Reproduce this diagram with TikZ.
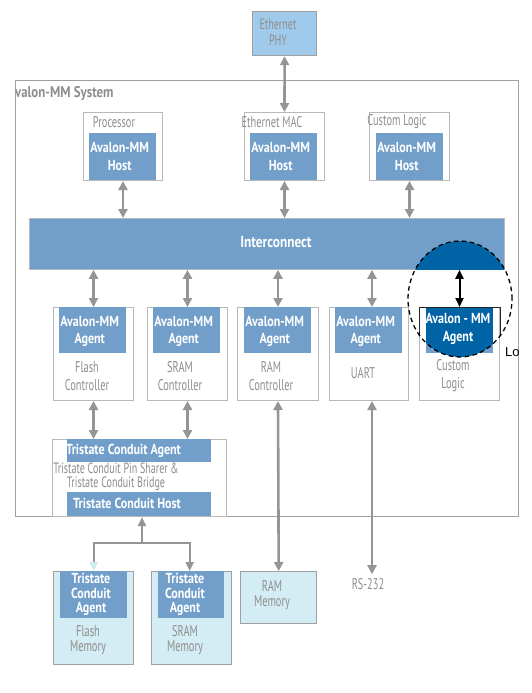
\documentclass[tikz,border=0pt]{standalone}
\usepackage{fontspec}
\setmainfont{PT Sans}
\newfontfamily\rgf{PT Sans}[FakeStretch=0.67]
\newfontfamily\bdf{PT Sans}[FakeStretch=0.83]
\newfontfamily\arialf{Liberation Sans}
\usetikzlibrary{arrows.meta,calc}
\definecolor{midblue}{HTML}{729FCA}
\definecolor{darkblue}{HTML}{0063A6}
\definecolor{phyblue}{HTML}{9FCAEB}
\definecolor{memcyan}{HTML}{D4ECF3}
\definecolor{boxgray}{HTML}{B8B8B8}
\definecolor{sysgray}{HTML}{A0A0A0}
\definecolor{arrgray}{HTML}{959595}
\definecolor{txtgray}{HTML}{8E8E8E}
\definecolor{palehead}{HTML}{CDEBF5}
\begin{document}
\begin{tikzpicture}[x=1pt,y=-1pt,
  box/.style={draw=boxgray, line width=1pt, fill=white, inner sep=0pt, anchor=north west},
  sysbox/.style={draw=sysgray, line width=1.2pt, inner sep=0pt, anchor=north west},
  bluebox/.style={fill=midblue, inner sep=0pt, anchor=north west},
  membox/.style={draw=sysgray, line width=1.4pt, fill=memcyan, inner sep=0pt, anchor=north west},
  gtxt/.style={text=txtgray, font=\rgf\fontsize{15.5}{18}\selectfont, align=center, inner sep=0pt},
  wtxt/.style={text=white, font=\bdf\bfseries\fontsize{14.5}{17.5}\selectfont, align=center, inner sep=0pt},
  garrow/.style={draw=arrgray, line width=2.6pt, {Triangle[width=9pt,length=9pt]}-{Triangle[width=9pt,length=9pt]}},
  gsingle/.style={draw=arrgray, line width=2.2pt, -{Triangle[width=8pt,length=9pt]}},
  barrow/.style={draw=black, line width=2pt, {Triangle[width=8pt,length=9pt]}-{Triangle[width=8pt,length=9pt]}},
  dashring/.style={draw=black, line width=1.3pt, dash pattern=on 4.5pt off 3.5pt}
]
\useasboundingbox (0,0) rectangle (532,693);
\fill[white] (0,0) rectangle (532,693);

% outer system
\node[sysbox, minimum width=503pt, minimum height=436pt] (sys) at (15,80) {};
\node[text=txtgray, font=\bdf\bfseries\fontsize{15.5}{18}\selectfont, anchor=west, inner sep=0pt] (title) at (15,94) {valon-MM System};

% Ethernet PHY
\node[sysbox, fill=phyblue, minimum width=64pt, minimum height=44pt] (phy) at (252,11) {};
\node[gtxt, font=\rgf\fontsize{15}{16}\selectfont] (phyT) at (278,32) {Ethernet\\PHY};

% host boxes
\node[box, minimum width=79pt, minimum height=68pt] (proc) at (83,112) {};
\node[bluebox, minimum width=67pt, minimum height=47pt] (procH) at (89,133) {};
\node[box, minimum width=80pt, minimum height=68pt] (mac) at (244,112) {};
\node[bluebox, minimum width=67pt, minimum height=47pt] (macH) at (250,133) {};
\node[box, minimum width=80pt, minimum height=68pt] (cust) at (369,112) {};
\node[bluebox, minimum width=67pt, minimum height=47pt] (custH) at (376,133) {};

% interconnect
\node[bluebox, draw=boxgray, line width=0.8pt, minimum width=475pt, minimum height=51pt] (ic) at (29,218) {};

% agent boxes
\node[box, minimum width=80pt, minimum height=93pt] (flashc) at (53,307) {};
\node[bluebox, minimum width=67pt, minimum height=46pt] (flashcA) at (59,307) {};
\node[box, minimum width=80pt, minimum height=93pt] (sramc) at (147,307) {};
\node[bluebox, minimum width=67pt, minimum height=46pt] (sramcA) at (153,307) {};
\node[box, minimum width=81pt, minimum height=93pt] (ramc) at (237,307) {};
\node[bluebox, minimum width=67pt, minimum height=46pt] (ramcA) at (244,307) {};
\node[box, minimum width=79pt, minimum height=93pt] (uart) at (329,307) {};
\node[bluebox, minimum width=67pt, minimum height=46pt] (uartA) at (335,307) {};
\node[box, minimum width=80pt, minimum height=93pt] (custl) at (419,307) {};
\node[bluebox, minimum width=67pt, minimum height=46pt] (custlA) at (426,307) {};

% tristate bridge
\node[box, minimum width=174pt, minimum height=77pt] (tri) at (52,439) {};
\node[bluebox, minimum width=144pt, minimum height=23pt] (triA) at (67,439) {};
\node[bluebox, minimum width=144pt, minimum height=24pt] (triH) at (67,492) {};

% memories
\node[membox, minimum width=80pt, minimum height=93pt] (flashm) at (53,571) {};
\node[bluebox, minimum width=67pt, minimum height=47pt] (flashmA) at (60,571) {};
\node[membox, minimum width=80pt, minimum height=93pt] (sramm) at (151,571) {};
\node[bluebox, minimum width=66pt, minimum height=47pt] (srammA) at (158,571) {};
\node[membox, minimum width=76pt, minimum height=52pt] (ramm) at (240,571) {};

% highlight ellipse fill
\coordinate (ec) at (460,299);
\begin{scope}
  \clip (ec) ellipse [x radius=52pt, y radius=58pt];
  \fill[darkblue] (ic.south west) rectangle (ic.north east);
  \fill[darkblue] (custlA.north west) rectangle ($(custlA.south east)+(0,6)$);
  \draw[black!85, line width=1pt] (custl.south west) rectangle (custl.north east);
\end{scope}
\draw[dashring] (ec) ellipse [x radius=52pt, y radius=58pt];

% connectors
\draw[garrow] (phy.south) -- (mac.north);
\draw[garrow] (proc.south) -- (proc.south |- ic.north);
\draw[garrow] (mac.south) -- (mac.south |- ic.north);
\draw[garrow] (cust.south) -- (cust.south |- ic.north);
\draw[garrow] (ic.south -| flashc.north) -- (flashc.north);
\draw[garrow] (ic.south -| sramc.north) -- (sramc.north);
\draw[garrow] (ic.south -| ramc.north) -- (ramc.north);
\coordinate (uartT) at ([xshift=3pt]uart.north);
\coordinate (uartB) at ([xshift=3pt]uart.south);
\draw[garrow] (ic.south -| uartT) -- (uartT);
\draw[barrow] (ic.south -| custl.north) -- (custl.north);
\draw[garrow] (flashc.south) -- (flashc.south |- tri.north);
\draw[garrow] (sramc.south) -- (sramc.south |- tri.north);
\draw[garrow] (ramc.south) -- (ramm.north);
\node[gtxt, inner sep=4pt] (rs) at (368,584) {RS-232};
\draw[garrow] (uartB) -- (uartB |- rs.north);
\coordinate (jn) at (142,543);
\draw[gsingle] (jn) -- (jn |- tri.south);
\draw[draw=arrgray, line width=2pt, -{Triangle[width=8pt,length=9pt,color=palehead]}] (jn) -| (flashm.north);
\draw[draw=arrgray, line width=2pt, -{Triangle[width=8pt,length=9pt]}] (jn) -| ([xshift=-2pt]sramm.north);

% texts
\node[gtxt] (procT) at (114,122) {Processor};
\node[gtxt] (macT) at (272,122) {Ethernet MAC};
\node[gtxt] (custT) at (397,122) {Custom Logic};
\node[wtxt] (procHT) at ([xshift=-3pt]procH.center) {Avalon-MM\\Host};
\node[wtxt] (macHT) at ([xshift=-3pt]macH.center) {Avalon-MM\\Host};
\node[wtxt] (custHT) at ([xshift=-3pt]custH.center) {Avalon-MM\\Host};
\node[wtxt, font=\bdf\bfseries\fontsize{16}{18}\selectfont] (icT) at (276,242) {Interconnect};

\node[wtxt] (flashcAT) at ([xshift=-3pt,yshift=-1pt]flashcA.center) {Avalon-MM\\Agent};
\node[wtxt] (sramcAT) at ([xshift=-3pt,yshift=-1pt]sramcA.center) {Avalon-MM\\Agent};
\node[wtxt] (ramcAT) at ([xshift=-3pt,yshift=-1pt]ramcA.center) {Avalon-MM\\Agent};
\node[wtxt] (uartAT) at ([xshift=-3pt,yshift=-1pt]uartA.center) {Avalon-MM\\Agent};
\node[wtxt] (custlAT) at (458,329) {Avalon - MM\\Agent};

\node[gtxt] (flashcT) at (87,376) {Flash\\Controller};
\node[gtxt] (sramcT) at (180,376) {SRAM\\Controller};
\node[gtxt] (ramcT) at (271,376) {RAM\\Controller};
\node[gtxt] (uartT2) at (363,373) {UART};
\node[gtxt] (custlT) at (453,376) {Custom\\Logic};

\node[wtxt, anchor=west] (triAT) at (66,451) {Tristate Conduit Agent};
\node[gtxt, font=\rgf\fontsize{15}{14}\selectfont] (triT) at (116,477) {Tristate Conduit Pin Sharer \&\\Tristate Conduit Bridge};
\node[wtxt] (triHT) at (127,503) {Tristate Conduit Host};

\node[wtxt, font=\bdf\bfseries\fontsize{14.5}{14.5}\selectfont] (flashmAT) at (91,594.5) {Tristate\\Conduit\\Agent};
\node[wtxt, font=\bdf\bfseries\fontsize{14.5}{14.5}\selectfont] (srammAT) at (185,594.5) {Tristate\\Conduit\\Agent};
\node[gtxt, font=\rgf\fontsize{15.5}{15}\selectfont] (flashmT) at (88,640.5) {Flash\\Memory};
\node[gtxt, font=\rgf\fontsize{15.5}{15}\selectfont] (srammT) at (185,640.5) {SRAM\\Memory};
\node[gtxt, font=\rgf\fontsize{15.5}{15}\selectfont] (rammT) at (272,595.5) {RAM\\Memory};

\node[font=\arialf\fontsize{13}{15}\selectfont, anchor=west, inner sep=0pt] (lo) at (505,352) {Lo};
\end{tikzpicture}
\end{document}
